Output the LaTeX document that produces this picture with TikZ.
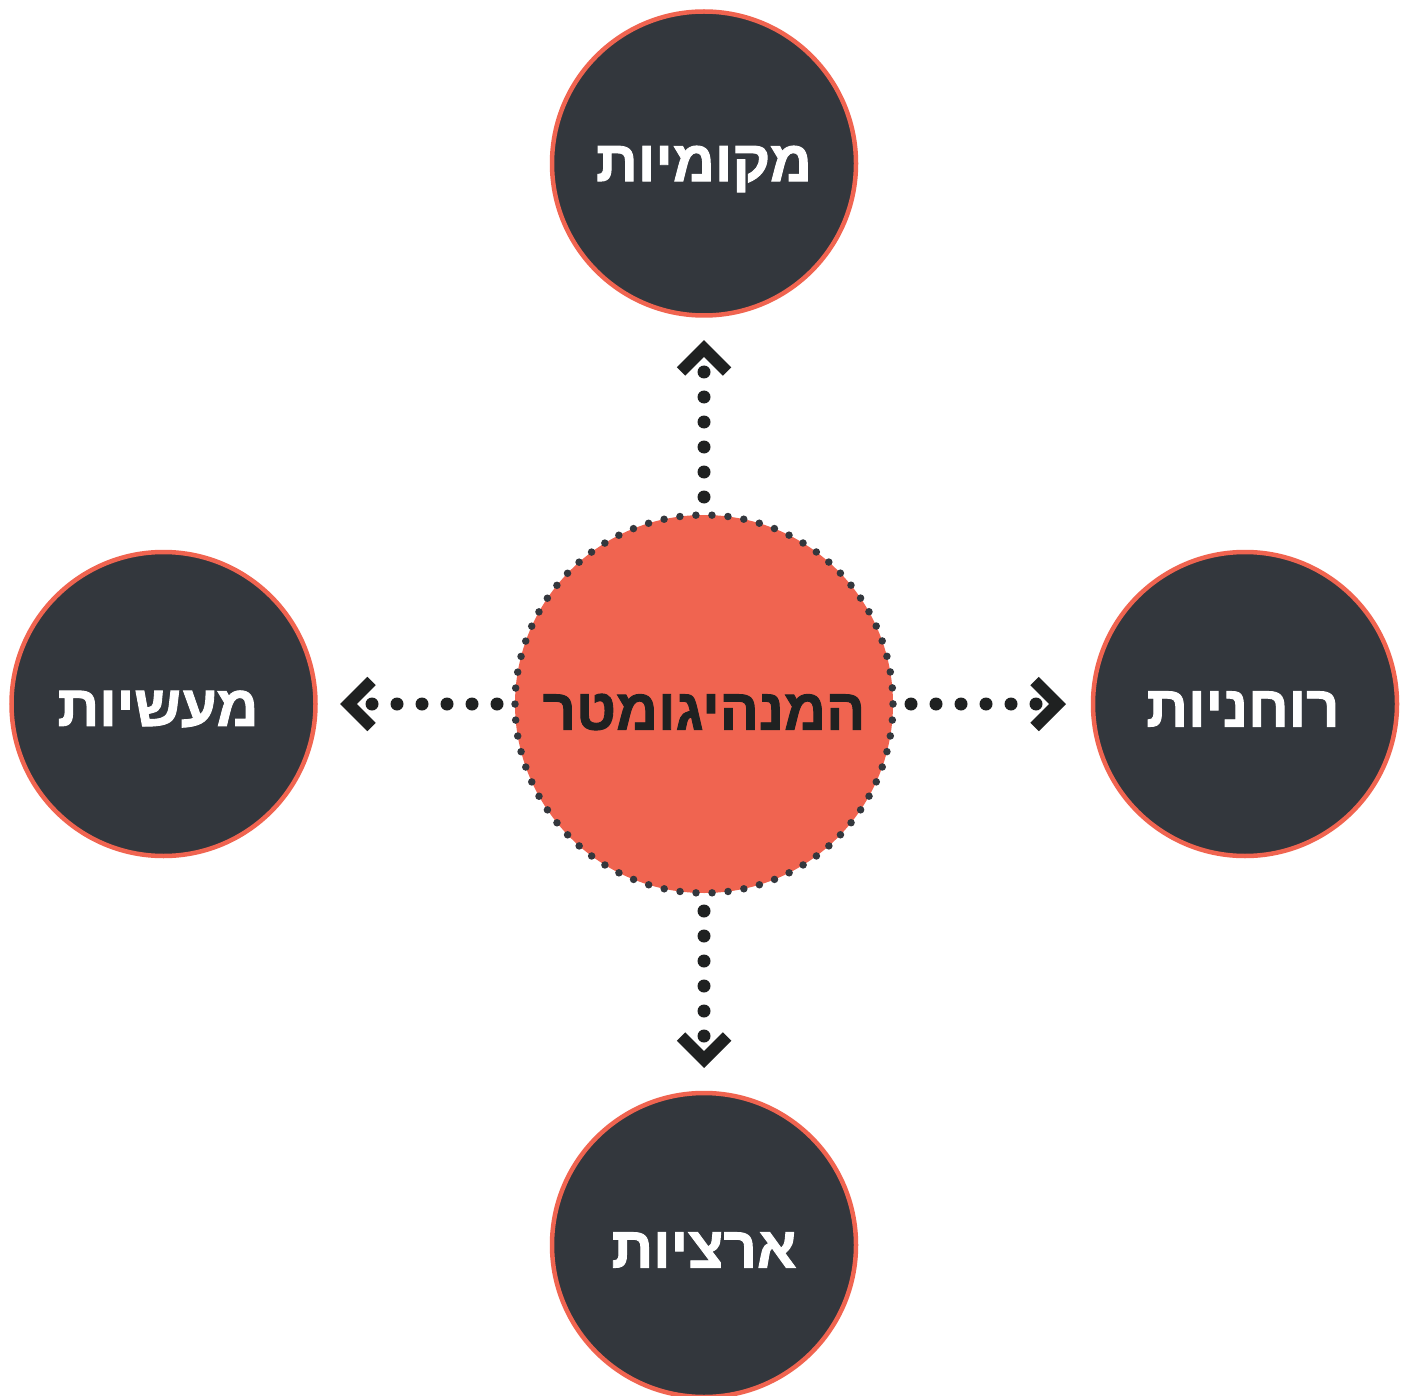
\documentclass[tikz,border=0pt]{standalone}
\usepackage{fontspec}
\usetikzlibrary{calc}
\TeXXeTstate=1
\newfontfamily\hebfont[Script=Hebrew,BoldFeatures={FakeBold=1.6}]{Liberation Sans}
\definecolor{darkc}{HTML}{33373D}
\definecolor{coral}{HTML}{F06450}
\definecolor{inkc}{HTML}{1F2121}
\begin{document}
\begin{tikzpicture}[x=1pt,y=-1pt,
  outer/.style={circle,fill=darkc,draw=coral,line width=4.5pt,minimum size=304pt,inner sep=0pt,
     text=white,font=\hebfont\bfseries\fontsize{58}{70}\selectfont},
  hub/.style={circle,fill=coral,minimum size=378pt,inner sep=0pt,
     text=inkc,font=\hebfont\bfseries\fontsize{58}{70}\selectfont},
  dotline/.style={draw=inkc,line width=13pt,line cap=round,dash pattern=on 0pt off 25pt},
  chev/.style={draw=inkc,line width=12pt,line join=miter,line cap=butt}]
\useasboundingbox (0,0) rectangle (1408,1396);
\fill[white] (0,0) rectangle (1408,1396);
% hub
\node[hub] (C) at (704,704) {};
\draw[darkc,line width=7.5pt,line cap=round,dash pattern=on 0pt off 16.048pt] (C.center) circle[radius=189];
\node[hub,fill=none,minimum size=0pt] (Ct) at (704,712) {\beginR המנהיגומטר\endR};
% outer circles
\node[outer] (T) at (704,163.5) {};
\node[outer] (L) at (163.5,704) {};
\node[outer] (R) at (1245,704) {};
\node[outer] (B) at (704,1245) {};
\node[outer,draw=none,fill=none,minimum size=0pt] (Tt) at (704,169) {\beginR מקומיות\endR};
\node[outer,draw=none,fill=none,minimum size=0pt] (Lt) at (158,709) {\beginR מעשיות\endR};
\node[outer,draw=none,fill=none,minimum size=0pt] (Rt) at (1243,709) {\beginR רוחניות\endR};
\node[outer,draw=none,fill=none,minimum size=0pt] (Bt) at (704,1250) {\beginR ארציות\endR};
% arrow end points
\coordinate (tS) at (704,497);   \coordinate (tE) at (704,371.5);
\coordinate (bS) at (704,911);   \coordinate (bE) at (704,1036.5);
\coordinate (lS) at (497,704);   \coordinate (lE) at (371.5,704);
\coordinate (rS) at (911,704);   \coordinate (rE) at (1036.5,704);
\draw[dotline] (tS) -- (tE);
\draw[dotline] (bS) -- (bE);
\draw[dotline] (lS) -- (lE);
\draw[dotline] (rS) -- (rE);
% chevrons
\coordinate (tA) at (704,348.5);
\coordinate (bA) at (704,1059.5);
\coordinate (lA) at (348.5,704);
\coordinate (rA) at (1057.5,704);
\draw[chev] ($(tA)+(-23,23)$) -- (tA) -- ($(tA)+(23,23)$);
\draw[chev] ($(bA)+(-23,-23)$) -- (bA) -- ($(bA)+(23,-23)$);
\draw[chev] ($(lA)+(23,-23)$) -- (lA) -- ($(lA)+(23,23)$);
\draw[chev] ($(rA)+(-23,-23)$) -- (rA) -- ($(rA)+(-23,23)$);
\end{tikzpicture}
\end{document}
